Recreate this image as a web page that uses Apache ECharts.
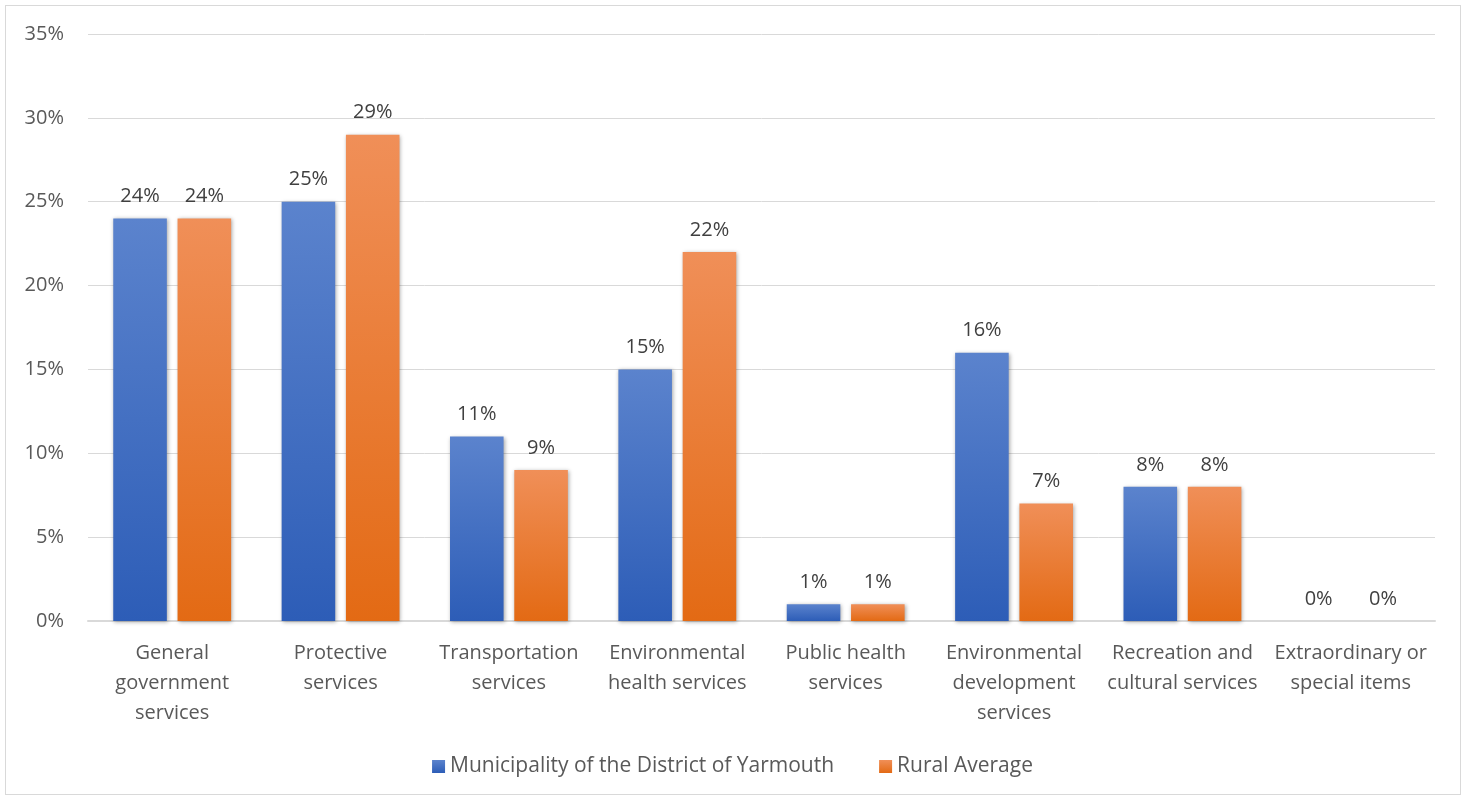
<!DOCTYPE html>
<html><head><meta charset="utf-8">
<script src="https://cdn.jsdelivr.net/npm/echarts@6/dist/echarts.min.js"></script>
<style>html,body{margin:0;padding:0;background:#fff}#c{width:1465px;height:799px}
#frame{position:absolute;left:5px;top:5px;width:1456px;height:790px;border:1px solid #d9d9d9;box-sizing:border-box;pointer-events:none}</style>
</head><body><div id="c"></div><div id="frame"></div>
<script>
const categories = ["General\ngovernment\nservices","Protective\nservices","Transportation\nservices","Environmental\nhealth services","Public health\nservices","Environmental\ndevelopment\nservices","Recreation and\ncultural services","Extraordinary or\nspecial items"];
const seriesNames = ["Municipality of the District of Yarmouth","Rural Average"];
const yarmouth = [24,25,11,15,1,16,8,0];
const rural = [24,29,9,22,1,7,8,0];
const chart = echarts.init(document.getElementById('c'));
const font = "'Open Sans', 'Noto Sans', sans-serif";
function grad(top,bot){return new echarts.graphic.LinearGradient(0,0,0,1,[{offset:0,color:top},{offset:1,color:bot}]);}
const labelCfg = {show:true,position:'top',distance:12,formatter:p=>p.value+'%',color:'#404040',fontSize:20,fontFamily:font};
chart.setOption({
  animation:false,
  grid:{left:88,right:30,top:34,bottom:178},
  legend:{bottom:17,left:'center',itemWidth:13,itemHeight:13,itemGap:45,icon:'rect',
    textStyle:{color:'#595959',fontSize:21,fontFamily:font},data:seriesNames},
  xAxis:{type:'category',data:categories,
    axisLine:{lineStyle:{color:'#d9d9d9',width:2}},axisTick:{show:false},
    axisLabel:{color:'#595959',fontSize:20,fontFamily:font,lineHeight:30,margin:17,interval:0}},
  yAxis:{type:'value',min:0,max:35,interval:5,
    axisLabel:{formatter:'{value}%',color:'#595959',fontSize:20,fontFamily:font,margin:24},
    splitLine:{lineStyle:{color:'#d9d9d9',width:1}},axisLine:{show:false},axisTick:{show:false}},
  series:[
    {name:seriesNames[0],type:'bar',data:yarmouth,barGap:'20%',barCategoryGap:'30%',
     itemStyle:{color:grad('#5B83CD','#2D5DB7'),shadowColor:'rgba(0,0,0,0.35)',shadowBlur:4,shadowOffsetX:1,shadowOffsetY:1},label:labelCfg},
    {name:seriesNames[1],type:'bar',data:rural,
     itemStyle:{color:grad('#F08F58','#E36A14'),shadowColor:'rgba(0,0,0,0.35)',shadowBlur:4,shadowOffsetX:1,shadowOffsetY:1},label:labelCfg}
  ]
});
</script></body></html>
